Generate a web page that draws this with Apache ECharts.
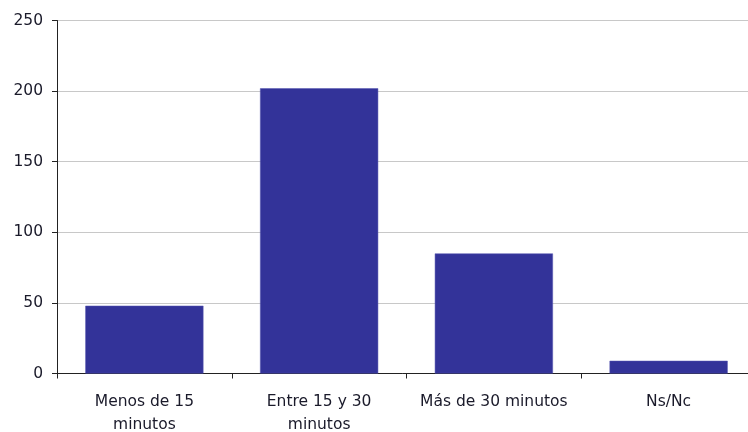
<!DOCTYPE html>
<html>
<head>
<meta charset="utf-8">
<script src="https://cdn.jsdelivr.net/npm/echarts@6/dist/echarts.min.js"></script>
<style>html,body{margin:0;padding:0;background:#fff}#c{width:748px;height:432px}</style>
</head>
<body>
<div id="c"></div>
<script>
var categories = ["Menos de 15\nminutos", "Entre 15 y 30\nminutos", "Más de 30 minutos", "Ns/Nc"];
var values = [48, 202, 85, 9];
var yTicks = [0, 50, 100, 150, 200, 250];

var chart = echarts.init(document.getElementById('c'), null, {renderer: 'canvas'});
chart.setOption({
  animation: false,
  backgroundColor: '#ffffff',
  grid: {left: 57, right: -8, top: 20.5, bottom: 58.5, containLabel: false, outerBoundsMode: 'none'},
  xAxis: {
    type: 'category',
    data: categories,
    axisLine: {lineStyle: {color: '#222', width: 1}},
    axisTick: {show: true, length: 5, lineStyle: {color: '#222'}},
    axisLabel: {fontFamily: 'DejaVu Sans', fontSize: 15.5, color: '#1a1a2a', margin: 17, lineHeight: 23, interval: 0}
  },
  yAxis: {
    type: 'value',
    min: yTicks[0],
    max: yTicks[yTicks.length - 1],
    interval: 50,
    axisLine: {show: true, lineStyle: {color: '#222', width: 1}},
    axisTick: {show: true, length: 5, lineStyle: {color: '#222'}},
    axisLabel: {fontFamily: 'DejaVu Sans', fontSize: 15.5, color: '#1a1a2a', margin: 14},
    splitLine: {show: true, lineStyle: {color: '#c8c8c8', width: 1}}
  },
  series: [{
    type: 'bar',
    data: values,
    barWidth: '67.6%',
    itemStyle: {color: '#333399', borderColor: '#5555b0', borderWidth: 0.5}
  }]
});
</script>
</body>
</html>
